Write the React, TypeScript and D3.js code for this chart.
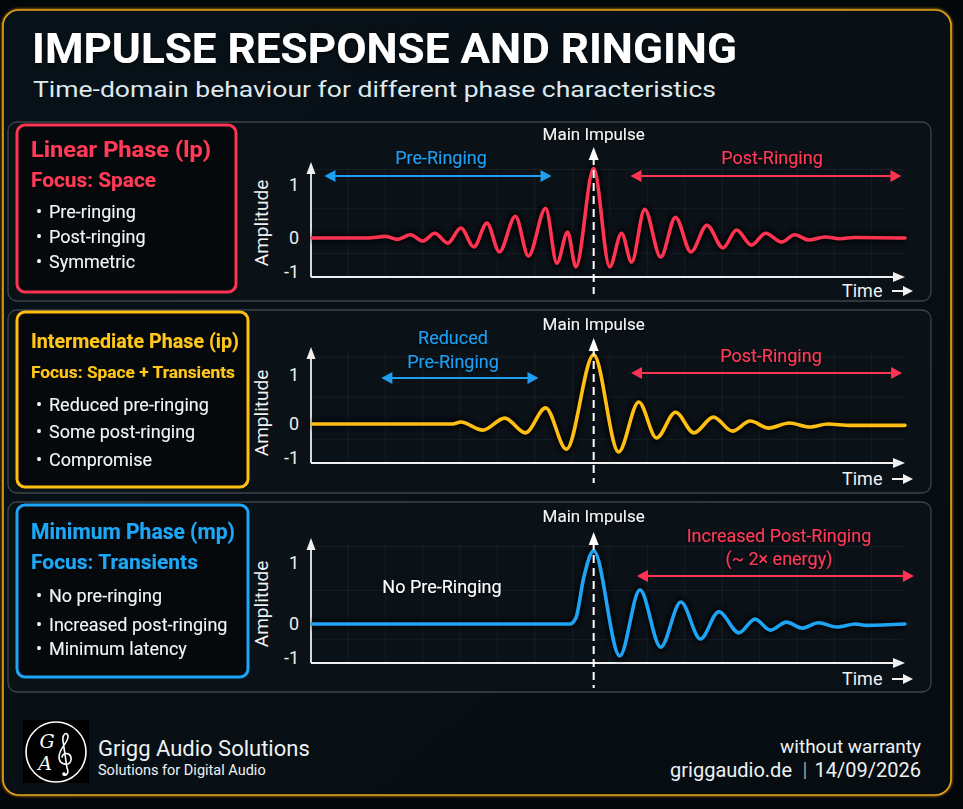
import React from 'react';
import * as d3 from 'd3';

// ---------- DATA ----------
const title = 'IMPULSE RESPONSE AND RINGING';
const subtitle = 'Time-domain behaviour for different phase characteristics';
const phaseNames = ['Linear Phase (lp)', 'Intermediate Phase (ip)', 'Minimum Phase (mp)'];
const focusLabels = ['Focus: Space', 'Focus: Space + Transients', 'Focus: Transients'];
const bulletLists = [
  ['Pre-ringing', 'Post-ringing', 'Symmetric'],
  ['Reduced pre-ringing', 'Some post-ringing', 'Compromise'],
  ['No pre-ringing', 'Increased post-ringing', 'Minimum latency'],
];
const yTicks = [1, 0, -1];
const yTickLabels = ['1', '0', '-1'];
const timeDomain: [number, number] = [-47.5, 52.5];
const impulseTime = 0;

// [time, amplitude] extrema
const linearWave: [number, number][] = [
  [-47.5, 0], [-38, 0], [-35.1, 0.03], [-33.1, -0.04], [-30.9, 0.06], [-28.8, -0.09],
  [-26.8, 0.09], [-24.6, -0.15], [-22.4, 0.19], [-20.2, -0.26], [-18.0, 0.28],
  [-15.9, -0.41], [-13.2, 0.41], [-11.0, -0.53], [-8.1, 0.56], [-6.2, -0.74],
  [-4.4, 0.11], [-3.0, -0.85], [0, 1.31], [2.7, -0.85], [4.7, 0.09], [6.4, -0.71],
  [8.6, 0.54], [11.3, -0.56], [13.8, 0.39], [16.4, -0.41], [19.1, 0.24], [21.8, -0.29],
  [24.1, 0.15], [26.6, -0.21], [29.0, 0.09], [31.7, -0.12], [33.9, 0.06], [36.3, -0.06],
  [39.0, 0.02], [41.5, -0.02], [44.0, 0.01], [52.5, 0],
];
const intermediateWave: [number, number][] = [
  [-47.5, 0], [-23.8, 0], [-22.4, 0.04], [-18.7, -0.18], [-15.0, 0.12], [-11.5, -0.26],
  [-8.1, 0.33], [-4.6, -0.74], [0, 1.41], [4.2, -0.82], [7.6, 0.45], [10.6, -0.41],
  [13.8, 0.24], [16.9, -0.26], [20.2, 0.14], [23.4, -0.21], [26.4, 0.06], [29.5, -0.12],
  [33.0, 0.02], [36.4, -0.09], [39.5, 0], [43.3, -0.04], [52.5, -0.04],
];
const minimumWave: [number, number][] = [
  [-47.5, 0], [-4.0, 0], [-3.0, 0.1], [-1.7, 0.75], [0, 1.2], [4.4, -0.94], [7.8, 0.56],
  [11.3, -0.68], [14.7, 0.36], [18.0, -0.44], [21.1, 0.2], [24.5, -0.26], [27.2, 0.08],
  [29.8, -0.18], [32.5, 0.03], [35.2, -0.12], [37.9, 0.02], [41.0, -0.09], [44.2, 0],
  [46.0, -0.04], [52.5, 0],
];
const waves = [linearWave, intermediateWave, minimumWave];

const preRingSpans: ([number, number] | null)[] = [[-45.4, -7.1], [-35.8, -9.3], null];
const postRingSpans: [number, number][] = [[6.2, 51.9], [6.3, 52.0], [7.3, 54.0]];
const preLabels = [['Pre-Ringing'], ['Reduced', 'Pre-Ringing'], ['No Pre-Ringing']];
const postLabels = [['Post-Ringing'], ['Post-Ringing'], ['Increased Post-Ringing', '(~ 2\u00d7 energy)']];

// ---------- STYLE / LAYOUT ----------
const colors = ['#ff3352', '#ffbf12', '#1ea4f5'];
const textColors = ['#ff3a58', '#ffc61a', '#1fa8f7'];
const RED = '#ff3352';
const BLUE = '#1f9ff0';
const FONT = 'Roboto, "Noto Sans", sans-serif';

const layouts = [
  {
    panel: [8, 122, 923, 179], box: [17, 125, 219, 167],
    titleY: 157, titleW: 180, titleSize: 22, focusY: 187, focusW: 125, focusSize: 20,
    bulletY: [218, 243, 268],
    y1: 185, y0: 238, ym1: 272, axisY: 277, axisTop: 162,
    impulseLabelY: 140, dashTop: 147, dashBottom: 294,
    preArrowY: 176, postArrowY: 176, preX: 441, preLabelY: [164], postX: 772, postLabelY: [164],
    preColor: BLUE, timeY: 297, ampY: 223,
  },
  {
    panel: [8, 310, 923, 183], box: [17, 312, 231, 175],
    titleY: 348, titleW: 208, titleSize: 20, focusY: 378, focusW: 204, focusSize: 17,
    bulletY: [411, 438, 466],
    y1: 375, y0: 424, ym1: 458, axisY: 463, axisTop: 347,
    impulseLabelY: 330, dashTop: 338, dashBottom: 483,
    preArrowY: 378, postArrowY: 373, preX: 453, preLabelY: [344, 368], postX: 771, postLabelY: [362],
    preColor: BLUE, timeY: 485, ampY: 413,
  },
  {
    panel: [8, 502, 923, 190], box: [17, 505, 231, 172],
    titleY: 539, titleW: 204, titleSize: 22, focusY: 569, focusW: 167, focusSize: 20,
    bulletY: [602, 631, 655],
    y1: 563, y0: 624, ym1: 658, axisY: 663, axisTop: 538,
    impulseLabelY: 522, dashTop: 532, dashBottom: 688,
    preArrowY: 0, postArrowY: 576, preX: 442, preLabelY: [593], postX: 779, postLabelY: [542, 565],
    preColor: '#ffffff', timeY: 685, ampY: 604,
  },
];

const xScale = d3.scaleLinear().domain(timeDomain).range([312, 905]);

function DoubleArrow({ x1, x2, y, color }: { x1: number; x2: number; y: number; color: string }) {
  const h = 6, l = 11;
  return (
    <g>
      <line x1={x1 + l - 2} x2={x2 - l + 2} y1={y} y2={y} stroke={color} strokeWidth={2.2} />
      <path d={`M${x1},${y} L${x1 + l},${y - h} L${x1 + l},${y + h} Z`} fill={color} />
      <path d={`M${x2},${y} L${x2 - l},${y - h} L${x2 - l},${y + h} Z`} fill={color} />
    </g>
  );
}

function Panel({ i }: { i: number }) {
  const L = layouts[i];
  const color = colors[i];
  const tcol = textColors[i];
  const y = d3.scaleLinear().domain([-1, 0, 1]).range([L.ym1, L.y0, L.y1]);
  const line = d3
    .line<[number, number]>()
    .x((d) => xScale(d[0]))
    .y((d) => y(d[1]))
    .curve(d3.curveMonotoneX);
  const path = line(waves[i]) || '';
  const axisX = xScale.range()[0] - 1;
  const axisEnd = xScale.range()[1];
  const gridXs = d3.range(348, 900, 37.4);
  const gridYs = [y(0.55), y(-0.45), (L.axisTop + y(1)) / 2 - 4];
  const xi = xScale(impulseTime);
  const pre = preRingSpans[i];
  const post = postRingSpans[i];
  const [px, py, pw, ph] = L.panel;
  const [bx, by, bw, bh] = L.box;
  return (
    <g>
      <rect x={px} y={py} width={pw} height={ph} rx={9} fill="#0a1117" stroke="#3d444a" strokeWidth={1.3} />
      {/* grid */}
      <g stroke="#ffffff" strokeOpacity={0.055} strokeWidth={1}>
        {gridXs.map((gx, k) => (
          <line key={'gx' + k} x1={gx} x2={gx} y1={L.axisTop + 4} y2={L.axisY} />
        ))}
        {gridYs.map((gy, k) => (
          <line key={'gy' + k} x1={axisX} x2={axisEnd} y1={gy} y2={gy} />
        ))}
      </g>
      {/* label box */}
      <rect x={bx} y={by} width={bw} height={bh} rx={8} fill="#05090c" stroke={color} strokeWidth={3} />
      <text x={31} y={L.titleY} fill={tcol} fontSize={L.titleSize} fontWeight={700} fontFamily={FONT}
        textLength={L.titleW} lengthAdjust="spacingAndGlyphs" filter="url(#tshadow)">{phaseNames[i]}</text>
      <text x={31} y={L.focusY} fill={tcol} fontSize={L.focusSize} fontWeight={700} fontFamily={FONT}
        textLength={L.focusW} lengthAdjust="spacingAndGlyphs" filter="url(#tshadow)">{focusLabels[i]}</text>
      {bulletLists[i].map((b, k) => (
        <g key={k} fill="#f2f4f5" fontFamily={FONT} fontSize={18} filter="url(#tshadow)">
          <text x={36} y={L.bulletY[k]} fontSize={18}>{'\u2022'}</text>
          <text x={49} y={L.bulletY[k]}>{b}</text>
        </g>
      ))}

      {/* axes */}
      <line x1={axisX} x2={axisEnd - 8} y1={L.axisY} y2={L.axisY} stroke="#f0f0f0" strokeWidth={1.8} />
      <path d={`M${axisEnd},${L.axisY} L${axisEnd - 12},${L.axisY - 5} L${axisEnd - 12},${L.axisY + 5} Z`} fill="#f0f0f0" />
      <line x1={axisX} x2={axisX} y1={L.axisY} y2={L.axisTop + 8} stroke="#f0f0f0" strokeWidth={1.8} />
      <path d={`M${axisX},${L.axisTop} L${axisX - 4.5},${L.axisTop + 12} L${axisX + 4.5},${L.axisTop + 12} Z`} fill="#f0f0f0" />
      {yTicks.map((t, k) => (
        <text key={k} x={299} y={y(t)} dy="0.35em" textAnchor="end" fill="#eeeeee" fontSize={18} fontFamily={FONT}>
          {yTickLabels[k]}
        </text>
      ))}
      <text transform={`translate(268,${L.ampY}) rotate(-90)`} textAnchor="middle" fill="#f2f2f2" fontSize={19} fontFamily={FONT}>
        Amplitude
      </text>
      <text x={842} y={L.timeY} fill="#f2f2f2" fontSize={18} fontFamily={FONT}>Time</text>
      <line x1={892} x2={905} y1={L.timeY - 6} y2={L.timeY - 6} stroke="#f2f2f2" strokeWidth={2} />
      <path d={`M${913},${L.timeY - 6} L${903},${L.timeY - 11} L${903},${L.timeY - 1} Z`} fill="#f2f2f2" />

      {/* waveform */}
      <path d={path} fill="none" stroke="#000000" strokeOpacity={0.7} strokeWidth={9} filter="url(#blur)" />
      <path d={path} fill="none" stroke={color} strokeWidth={3.6} strokeLinejoin="round" strokeLinecap="round" />

      {/* main impulse */}
      <line x1={xi} x2={xi} y1={L.dashTop + 10} y2={L.dashBottom} stroke="#ffffff" strokeWidth={2} strokeDasharray="8 5" />
      <path d={`M${xi},${L.dashTop} L${xi - 5},${L.dashTop + 13} L${xi + 5},${L.dashTop + 13} Z`} fill="#ffffff" />
      <text x={xi} y={L.impulseLabelY} textAnchor="middle" fill="#f4f4f4" fontSize={17} fontFamily={FONT} filter="url(#tshadow)">
        Main Impulse
      </text>

      {/* annotations */}
      {pre && <DoubleArrow x1={xScale(pre[0])} x2={xScale(pre[1])} y={L.preArrowY} color={BLUE} />}
      {preLabels[i].map((s, k) => (
        <text key={'pl' + k} x={L.preX} y={L.preLabelY[k]} textAnchor="middle" fill={L.preColor} fontSize={18} fontFamily={FONT} filter="url(#tshadow)">
          {s}
        </text>
      ))}
      <DoubleArrow x1={xScale(post[0])} x2={xScale(post[1])} y={L.postArrowY} color={RED} />
      {postLabels[i].map((s, k) => (
        <text key={'ql' + k} x={L.postX} y={L.postLabelY[k]} textAnchor="middle" fill="#ff3a58" fontSize={18} fontFamily={FONT} filter="url(#tshadow)">
          {s}
        </text>
      ))}
    </g>
  );
}

export default function App() {
  return (
    <svg width={963} height={809} viewBox="0 0 963 809" style={{ position: 'absolute', left: 0, top: 0, display: 'block' }}>
      <defs>
        <linearGradient id="bg" x1="0" y1="0" x2="1" y2="1">
          <stop offset="0" stopColor="#071118" />
          <stop offset="0.5" stopColor="#081016" />
          <stop offset="1" stopColor="#060c10" />
        </linearGradient>
        <linearGradient id="sep" x1="0" x2="1">
          <stop offset="0" stopColor="#6d747a" />
          <stop offset="0.5" stopColor="#5a6166" />
          <stop offset="1" stopColor="#8a9196" />
        </linearGradient>
        <filter id="tshadow" x="-10%" y="-30%" width="120%" height="160%">
          <feDropShadow dx="0" dy="1" stdDeviation="1.5" floodColor="#000" floodOpacity="0.9" />
        </filter>
        <filter id="blur" x="-5%" y="-20%" width="110%" height="140%">
          <feGaussianBlur stdDeviation="2.5" />
        </filter>
        <filter id="goldglow" x="-5%" y="-5%" width="110%" height="110%">
          <feGaussianBlur stdDeviation="1.2" />
        </filter>
      </defs>
      <rect x={0} y={0} width={963} height={809} fill="#04070a" />
      <rect x={3} y={10} width={948} height={785} rx={16} fill="url(#bg)" stroke="#f0a81c" strokeWidth={3} filter="url(#goldglow)" opacity={0.6} />
      <rect x={3} y={10} width={948} height={785} rx={16} fill="url(#bg)" stroke="#e8a21a" strokeWidth={1.6} />

      <text x={32} y={63} fill="#ffffff" fontSize={42} fontWeight={700} fontFamily={FONT}
        textLength={705} lengthAdjust="spacingAndGlyphs" filter="url(#tshadow)">{title}</text>
      <text x={33} y={97} fill="#dde9ee" fontSize={22} fontFamily={FONT}
        textLength={683} lengthAdjust="spacingAndGlyphs">{subtitle}</text>

      {[0, 1, 2].map((i) => (
        <Panel key={i} i={i} />
      ))}

      {/* footer */}
      <line x1={95} x2={923} y1={722} y2={722} stroke="url(#sep)" strokeWidth={1.5} />
      <rect x={23} y={720} width={66} height={63} fill="#000000" />
      <circle cx={56} cy={752} r={30} fill="none" stroke="#ffffff" strokeWidth={1.6} />
      <text x={47} y={748} textAnchor="middle" fill="#ffffff" fontSize={19} fontStyle="italic" fontFamily='"DejaVu Serif", serif'>G</text>
      <text x={45} y={770} textAnchor="middle" fill="#ffffff" fontSize={19} fontStyle="italic" fontFamily='"DejaVu Serif", serif'>A</text>
      <path
        d="M64,775 C67,776 69,772 67,768 L63,741 C62,734 67,731 68,736 C69,742 59,748 59,757 C59,765 70,767 71,760 C72,753 63,751 62,757"
        fill="none" stroke="#ffffff" strokeWidth={1.6} strokeLinecap="round"
      />
      <circle cx={64} cy={774} r={1.8} fill="#ffffff" />
      <text x={98} y={756} fill="#eef2f4" fontSize={22} fontFamily={FONT}>Grigg Audio Solutions</text>
      <text x={98} y={775} fill="#eef2f4" fontSize={14.5} fontFamily={FONT}>Solutions for Digital Audio</text>
      <text x={921} y={753} textAnchor="end" fill="#eef2f4" fontSize={19} fontFamily={FONT}>without warranty</text>
      <text x={792} y={777} textAnchor="end" fill="#eef2f4" fontSize={20} fontFamily={FONT}>griggaudio.de</text>
      <text x={805} y={777} textAnchor="middle" fill="#9aa0a4" fontSize={20} fontFamily={FONT}>|</text>
      <text x={921} y={777} textAnchor="end" fill="#eef2f4" fontSize={20} fontFamily={FONT}>14/09/2026</text>
    </svg>
  );
}
